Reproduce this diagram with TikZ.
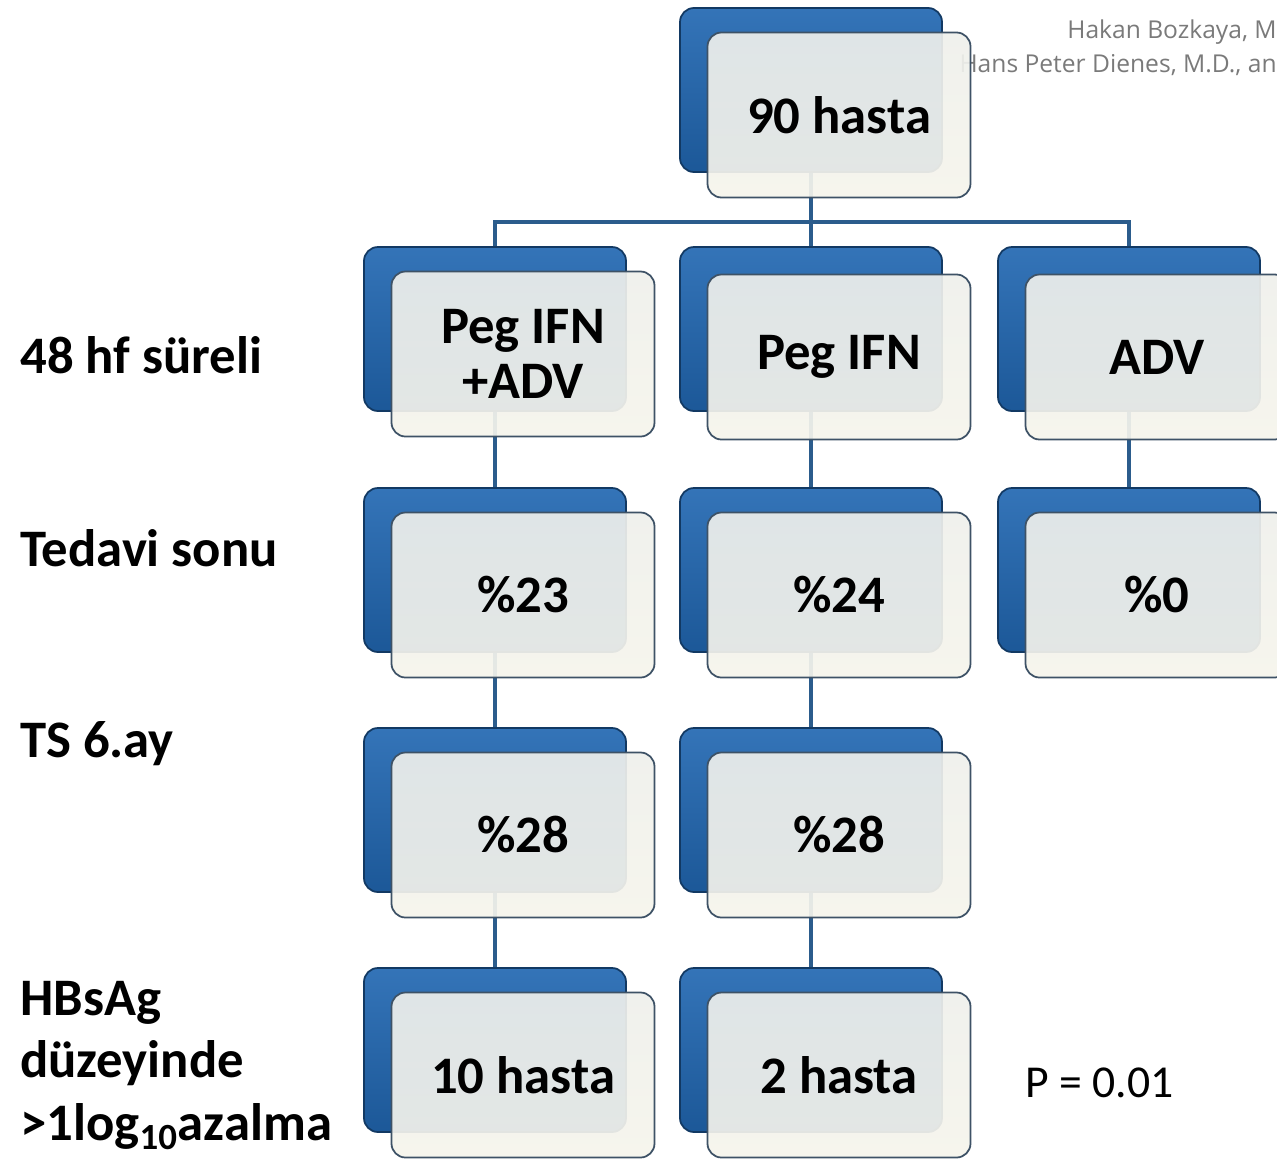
\documentclass[tikz,border=0pt]{standalone}
\usepackage{fontspec}
\setmainfont{Carlito}
\newfontfamily\authorfont{Open Sans}
\usepackage{tikz}
\usetikzlibrary{backgrounds, calc}
\definecolor{boxblue}{HTML}{1C5898}
\definecolor{boxbluelight}{HTML}{3474B8}
\definecolor{boxedge}{HTML}{3E5266}
\definecolor{linkblue}{HTML}{2B5C8C}
\definecolor{paletop}{HTML}{EFF0EC}
\definecolor{palebottom}{HTML}{F5F4EC}
\definecolor{authorgray}{HTML}{7A7A7A}
\tikzset{
  % Riquadri blu (dietro)
  back box/.style={rounded corners=0.28cm,draw=boxblue!65!black,line width=1pt,
    top color=boxbluelight,bottom color=boxblue,
    minimum width=5.24cm,minimum height=3.28cm,inner sep=0},
  % Riquadri chiari (davanti)
  front box/.style={rounded corners=0.28cm,draw=boxedge,line width=1pt,
    top color=paletop,bottom color=palebottom,fill opacity=0.92,text opacity=1,
    minimum width=5.26cm,minimum height=3.3cm,inner sep=0,align=center,
    font=\fontsize{30}{31}\selectfont\bfseries},
  % Connessioni
  link/.style={linkblue,line width=2.3pt},
  row label/.style={inner sep=0,align=left,font=\fontsize{30}{35.5}\selectfont\bfseries},
  author/.style={inner sep=0,authorgray,font=\fontsize{14}{16}\selectfont\authorfont}
}
\begin{document}
\begin{tikzpicture}
    \useasboundingbox (0,0) rectangle (25.54,-23.2);
    \clip (0,0) rectangle (25.54,-23.2);
    \node[author, anchor=base east] (Author1) at (25.54,-0.76) {Hakan Bozkaya, M};
    \node[author, anchor=base east] (Author2) at (25.54,-1.44) {Hans Peter Dienes, M.D., an};
    \node[back box]  (Back0)  at (16.22,-1.80) {};
    \node[front box] (Box0)   at (16.78,-2.30) {90 hasta};
    \node[back box]  (BackA1) at ( 9.90,-6.58) {};
    \node[front box] (BoxA1)  at (10.46,-7.08) {Peg IFN\\+ADV};
    \node[back box]  (BackB1) at (16.22,-6.58) {};
    \node[front box] (BoxB1)  at (16.78,-7.14) {Peg IFN};
    \node[back box]  (BackC1) at (22.58,-6.58) {};
    \node[front box] (BoxC1)  at (23.14,-7.14) {ADV};
    \node[back box]  (BackA2) at ( 9.90,-11.40) {};
    \node[front box] (BoxA2)  at (10.46,-11.90) {\%23};
    \node[back box]  (BackB2) at (16.22,-11.40) {};
    \node[front box] (BoxB2)  at (16.78,-11.90) {\%24};
    \node[back box]  (BackC2) at (22.58,-11.40) {};
    \node[front box] (BoxC2)  at (23.14,-11.90) {\%0};
    \node[back box]  (BackA3) at ( 9.90,-16.20) {};
    \node[front box] (BoxA3)  at (10.46,-16.70) {\%28};
    \node[back box]  (BackB3) at (16.22,-16.20) {};
    \node[front box] (BoxB3)  at (16.78,-16.70) {\%28};
    \node[back box]  (BackA4) at ( 9.90,-21.00) {};
    \node[front box] (BoxA4)  at (10.46,-21.50) {10 hasta};
    \node[back box]  (BackB4) at (16.22,-21.00) {};
    \node[front box] (BoxB4)  at (16.78,-21.50) {2 hasta};
    \node[row label, anchor=base west] (Row1) at (0.4,-7.46)  {48 hf süreli};
    \node[row label, anchor=base west] (Row2) at (0.4,-11.32) {Tedavi sonu};
    \node[row label, anchor=base west] (Row3) at (0.4,-15.14) {TS 6.ay};
    \node[row label, anchor=base west] (Row4) at (0.4,-22.80) {HBsAg\\düzeyinde\\>1log\textsubscript{10}azalma};
    \node[inner sep=0, anchor=base west, font=\fontsize{26}{30}\selectfont] (Pval) at (20.5,-21.94) {P = 0.01};
    \coordinate (Bus) at (16.22,-4.44);
    \begin{scope}[on background layer]
      \draw[link] (Back0.center)  -- (BackB1.center);
      \draw[link] (BackA1.center) |- (Bus) -| (BackC1.center);
      \draw[link] (BackA1.center) -- (BackA4.center);
      \draw[link] (BackB1.center) -- (BackB4.center);
      \draw[link] (BackC1.center) -- (BackC2.center);
    \end{scope}
  \end{tikzpicture}
\end{document}
